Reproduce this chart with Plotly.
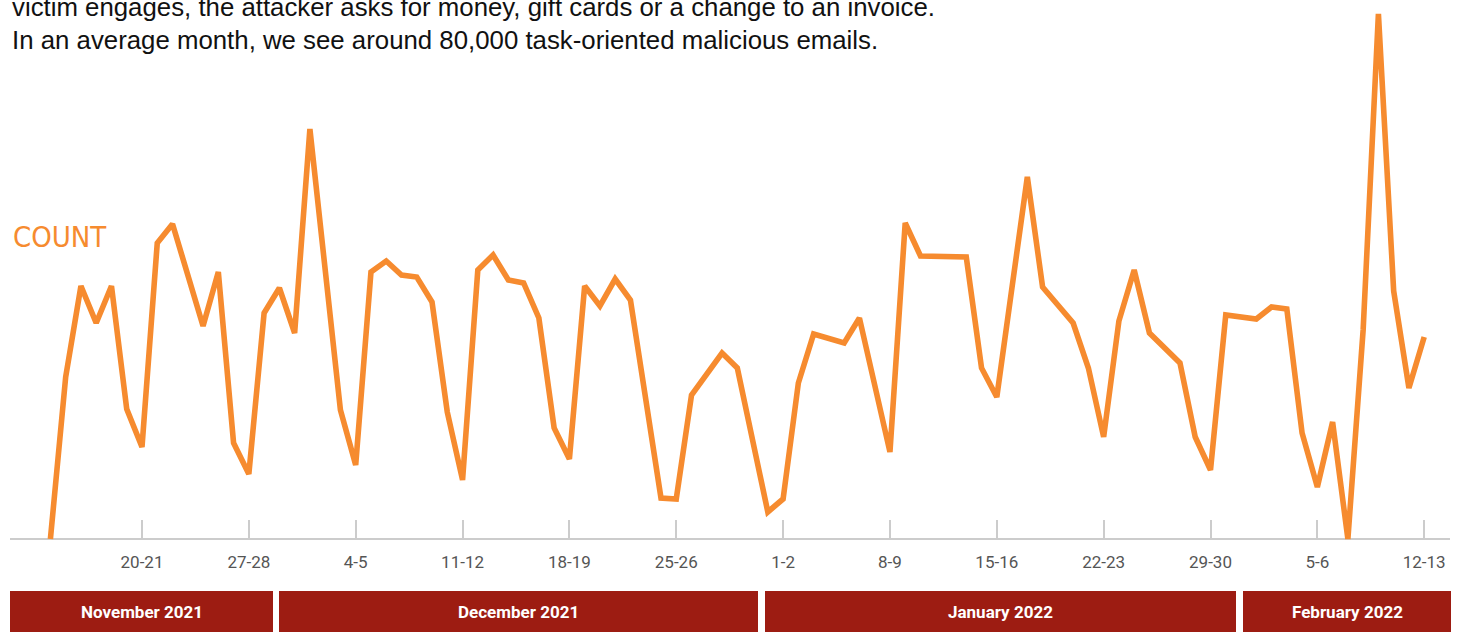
import plotly.graph_objects as go

# ---------------- data ----------------
dates = [
    "2021-11-15", "2021-11-16", "2021-11-17", "2021-11-18", "2021-11-19", "2021-11-20", "2021-11-21",
    "2021-11-22", "2021-11-23", "2021-11-25", "2021-11-26", "2021-11-27", "2021-11-28",
    "2021-11-29", "2021-11-30", "2021-12-01", "2021-12-02", "2021-12-04", "2021-12-05",
    "2021-12-06", "2021-12-07", "2021-12-08", "2021-12-09", "2021-12-10", "2021-12-11", "2021-12-12",
    "2021-12-13", "2021-12-14", "2021-12-15", "2021-12-16", "2021-12-17", "2021-12-18", "2021-12-19",
    "2021-12-20", "2021-12-21", "2021-12-22", "2021-12-23", "2021-12-25", "2021-12-26",
    "2021-12-27", "2021-12-29", "2021-12-30", "2022-01-01", "2022-01-02",
    "2022-01-03", "2022-01-04", "2022-01-06", "2022-01-07", "2022-01-09",
    "2022-01-10", "2022-01-11", "2022-01-14", "2022-01-15", "2022-01-16",
    "2022-01-18", "2022-01-19", "2022-01-20", "2022-01-21", "2022-01-22", "2022-01-23",
    "2022-01-24", "2022-01-25", "2022-01-26", "2022-01-28", "2022-01-29", "2022-01-30",
    "2022-01-31", "2022-02-02", "2022-02-03", "2022-02-04", "2022-02-05", "2022-02-06",
    "2022-02-07", "2022-02-08", "2022-02-09", "2022-02-10", "2022-02-11", "2022-02-12", "2022-02-13",
]
counts = [
    0, 1620, 2530, 2160, 2530, 1300, 920,
    2960, 3150, 2130, 2670, 960, 650,
    2260, 2510, 2060, 4100, 1290, 740,
    2670, 2780, 2640, 2620, 2370, 1270, 590,
    2690, 2840, 2590, 2560, 2210, 1110, 800,
    2530, 2330, 2600, 2390, 410, 400,
    1440, 1860, 1710, 270, 400,
    1560, 2050, 1960, 2210, 870,
    3160, 2830, 2820, 1710, 1420,
    3620, 2520, 2340, 2160, 1710, 1020,
    2180, 2690, 2060, 1760, 1020, 690,
    2240, 2200, 2320, 2300, 1060, 520,
    1170, 0, 2090, 5250, 2480, 1510, 2020,
]
week_tick_dates = [
    "2021-11-21", "2021-11-28", "2021-12-05", "2021-12-12", "2021-12-19", "2021-12-26",
    "2022-01-02", "2022-01-09", "2022-01-16", "2022-01-23", "2022-01-30", "2022-02-06", "2022-02-13",
]
week_tick_labels = [
    "20-21", "27-28", "4-5", "11-12", "18-19", "25-26",
    "1-2", "8-9", "15-16", "22-23", "29-30", "5-6", "12-13",
]
month_labels = ["November 2021", "December 2021", "January 2022", "February 2022"]

intro_lines = [
    "victim engages, the attacker asks for money, gift cards or a change to an invoice.",
    "In an average month, we see around 80,000 task-oriented malicious emails.",
]
axis_title = "COUNT"

# ---------------- styling / layout ----------------
W, H = 1457, 632
ORANGE = "#F68B2F"
BAR_RED = "#9D1C12"
ML, MR = 10, 7
plot_w = W - ML - MR

def px_x(p):
    return (p - ML) / plot_w

def px_y(p):
    return (H - p) / H

# month band extents (pixel positions of the layout)
month_spans_px = [(10, 273), (279, 758), (765, 1236), (1243, 1451)]

fig = go.Figure()
fig.add_trace(go.Scatter(
    x=dates, y=counts, mode="lines",
    line=dict(color=ORANGE, width=5.6, shape="linear"),
    hoverinfo="x+y", showlegend=False,
))

shapes = []
annotations = []
for (a, b), lab in zip(month_spans_px, month_labels):
    shapes.append(dict(type="rect", xref="paper", yref="paper",
                       x0=px_x(a), x1=px_x(b), y0=0, y1=px_y(591),
                       fillcolor=BAR_RED, line=dict(width=0), layer="above"))
    annotations.append(dict(xref="paper", yref="paper", x=(px_x(a) + px_x(b)) / 2,
                            y=px_y(611.5), xanchor="center", yanchor="middle",
                            text=lab, showarrow=False,
                            font=dict(family="Roboto", size=17, color="white", weight="bold")))

# intro text lines (baselines ~17px and ~50px)
INTRO_SIZE = 25.8
for base, line in zip([17, 50], intro_lines):
    annotations.append(dict(xref="paper", yref="paper", x=0, xanchor="left",
                            y=px_y(base + 1 + 0.212 * INTRO_SIZE), yanchor="bottom",
                            text=line, showarrow=False,
                            font=dict(family="Liberation Sans, Arial, sans-serif", size=INTRO_SIZE,
                                      color="#111111")))

annotations.append(dict(xref="paper", yref="paper", x=px_x(11), xanchor="left",
                        y=px_y(249 + 7.2), yanchor="bottom",
                        text=axis_title, showarrow=False,
                        font=dict(family="Liberation Sans Narrow, DejaVu Sans Condensed, Roboto", size=29,
                                  color=ORANGE)))

fig.update_layout(
    width=W, height=H,
    margin=dict(l=ML, r=MR, t=0, b=0, pad=0),
    paper_bgcolor="white", plot_bgcolor="white",
    shapes=shapes, annotations=annotations,
    xaxis=dict(
        type="date",
        range=["2021-11-12 08:28", "2022-02-14 16:34"],
        anchor="free", position=px_y(539),
        showgrid=False, zeroline=False,
        showline=True, linecolor="#cccccc", linewidth=2,
        ticks="inside", ticklen=18, tickwidth=1.5, tickcolor="#cccccc",
        tickmode="array", tickvals=week_tick_dates, ticktext=week_tick_labels,
        tickfont=dict(family="Roboto", size=17, color="#555555"),
        ticklabelstandoff=8,
        layer="below traces",
    ),
    yaxis=dict(
        domain=[px_y(547), 1],
        range=[-80, 5390],
        visible=False, showgrid=False, zeroline=False,
    ),
)

fig.write_html("out.html", config={"displayModeBar": False},
               post_script="document.body.style.margin='0px';document.body.style.overflow='hidden';")
